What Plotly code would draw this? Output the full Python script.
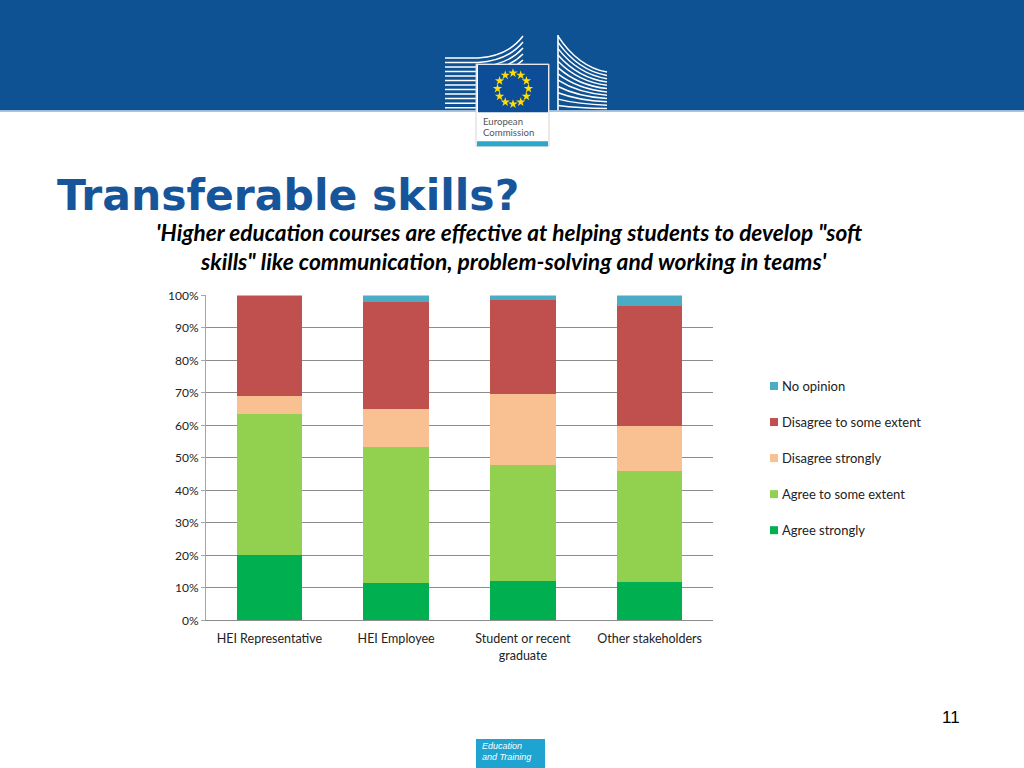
import math
import plotly.graph_objects as go

# ---------------- data ----------------
categories = ["HEI Representative", "HEI Employee", "Student or recent<br>graduate", "Other stakeholders"]
agree_strongly = [20.1, 11.5, 12.1, 11.8]
agree_some = [43.4, 41.7, 35.8, 34.3]
disagree_strongly = [5.6, 11.8, 21.9, 13.8]
disagree_some = [30.9, 33.1, 28.7, 36.8]
no_opinion = [0.0, 1.9, 1.5, 3.3]
y_ticks = [0, 10, 20, 30, 40, 50, 60, 70, 80, 90, 100]
y_tick_labels = [f"{v}%" for v in y_ticks]

series_names = ["Agree strongly", "Agree to some extent", "Disagree strongly",
                "Disagree to some extent", "No opinion"]
series_values = [agree_strongly, agree_some, disagree_strongly, disagree_some, no_opinion]
series_colors = ["#00B050", "#92D050", "#F9C191", "#C0504D", "#4BACC6"]

W, H = 1024, 768
# the paper area renders 8 px inset and 752/768 tall; compensate
V_OFF, V_SC = 8.0, 752.0 / 768.0

def px(x):
    return x / W
def py(y):
    return 1 - ((y - V_OFF) / V_SC) / H

FONT = "Lato"

fig = go.Figure()
for name, vals, col in zip(series_names, series_values, series_colors):
    fig.add_trace(go.Bar(
        x=categories, y=vals, name=name,
        marker=dict(color=col, line=dict(width=0)),
        showlegend=False, hoverinfo="skip",
    ))

shapes = []
annotations = []

def rect(x0, x1, y0, y1, color, layer="below", line=None):
    shapes.append(dict(type="rect", xref="paper", yref="paper", x0=px(x0), x1=px(x1),
                       y0=py(y1), y1=py(y0), fillcolor=color,
                       line=line or dict(width=0), layer=layer))

# header band
rect(0, W, -20, 110, "#0F5294")
rect(0, W, 110, 111.5, "#8EB0D4")

# logo building stripes (left)
for i in range(12):
    y0 = 58 + i * 4.5
    ye = 36 + i * 6.0
    path = (f"M {px(445)},{py(y0)} L {px(478)},{py(y0)} "
            f"Q {px(508)},{py(y0 - 2)} {px(523)},{py(ye)}")
    shapes.append(dict(type="path", xref="paper", yref="paper", path=path, layer="below",
                       line=dict(color="white", width=1.5)))
# right building stripes
for i in range(12):
    ys = 36 + i * 6.3
    ye = 72 + i * 3.3
    path = (f"M {px(558)},{py(ys)} Q {px(578)},{py(ys + (ye - ys) * 0.85)} {px(607)},{py(ye)}")
    shapes.append(dict(type="path", xref="paper", yref="paper", path=path, layer="below",
                       line=dict(color="white", width=1.5)))
shapes.append(dict(type="line", xref="paper", yref="paper", x0=px(558), x1=px(558), y0=py(110), y1=py(35),
                   layer="below", line=dict(color="white", width=1.6)))

# emblem box
rect(476, 549, 64, 146, "white", line=dict(color="#D5D5D5", width=1))
rect(478, 548, 65, 112, "#0D4C97")
rect(477, 548, 141, 146, "#2AA7C9")

# EU stars on a hidden helper axis placed over the emblem (pixel units)
cx, cy, r = 513, 88.5, 15.5
star_x = [cx + r * math.sin(2 * math.pi * k / 12) for k in range(12)]
star_y = [cy - r * math.cos(2 * math.pi * k / 12) for k in range(12)]
fig.add_trace(go.Scatter(x=star_x, y=star_y, mode="markers", xaxis="x2", yaxis="y2",
                         marker=dict(symbol="star", size=7, color="#FFDE00", line=dict(width=0)),
                         showlegend=False, hoverinfo="skip", cliponaxis=False))

annotations.append(dict(xref="paper", yref="paper", x=px(480.5), y=py(121), text="European",
                        showarrow=False, font=dict(size=9.6, color="#555555", family=FONT),
                        xanchor="left", yanchor="middle"))
annotations.append(dict(xref="paper", yref="paper", x=px(480.5), y=py(132.5), text="Commission",
                        showarrow=False, font=dict(size=9.6, color="#555555", family=FONT),
                        xanchor="left", yanchor="middle"))

# title
annotations.append(dict(xref="paper", yref="paper", x=px(55), y=py(195), text="<b>Transferable skills?</b>",
                        showarrow=False, font=dict(size=42.5, color="#17559A", family="DejaVu Sans"),
                        xanchor="left", yanchor="middle"))
annotations.append(dict(xref="paper", yref="paper", x=px(509), y=py(232),
                        text="<b><i>'Higher education courses are effective at helping students to develop \"soft</i></b>",
                        showarrow=False, font=dict(size=22.6, color="#000000", family=FONT),
                        xanchor="center", yanchor="middle"))
annotations.append(dict(xref="paper", yref="paper", x=px(513), y=py(261),
                        text="<b><i>skills\" like communication, problem-solving and working in teams'</i></b>",
                        showarrow=False, font=dict(size=22.8, color="#000000", family=FONT),
                        xanchor="center", yanchor="middle"))

# custom legend (top item = last series)
leg_y = [529.5, 493.5, 457.5, 421.5, 385.5]
for name, col, yy in zip(series_names, series_colors, leg_y):
    rect(770, 778, yy - 4, yy + 4, col, layer="above")
    annotations.append(dict(xref="paper", yref="paper", x=px(780), y=py(yy), text=name,
                            showarrow=False, font=dict(size=13, color="#222222", family=FONT),
                            xanchor="left", yanchor="middle"))

# page number
annotations.append(dict(xref="paper", yref="paper", x=px(951), y=py(717), text="11",
                        showarrow=False, font=dict(size=17, color="#000000", family="Liberation Sans"),
                        xanchor="center", yanchor="middle"))

# footer box
rect(476, 545, 738, 790, "#1FA3D0")
annotations.append(dict(xref="paper", yref="paper", x=px(480), y=py(745.5), text="<i>Education</i>",
                        showarrow=False, font=dict(size=9, color="white", family="Liberation Sans"),
                        xanchor="left", yanchor="middle"))
annotations.append(dict(xref="paper", yref="paper", x=px(480), y=py(756), text="<i>and Training</i>",
                        showarrow=False, font=dict(size=9, color="white", family="Liberation Sans"),
                        xanchor="left", yanchor="middle"))

fig.update_layout(
    width=W, height=H,
    margin=dict(l=0, r=0, t=0, b=0),
    paper_bgcolor="white", plot_bgcolor="rgba(0,0,0,0)",
    barmode="stack", bargap=0.483,
    showlegend=False,
    font=dict(family=FONT, size=12.5, color="#222222"),
    xaxis=dict(domain=[px(206), px(713)], showgrid=False, showline=True, linecolor="#8C8C8C",
               linewidth=1, ticks="", ticklabelstandoff=7, tickfont=dict(size=12.5, color="#222222")),
    yaxis=dict(domain=[py(619.5), py(295)], range=[0, 100], tickvals=y_ticks, ticktext=y_tick_labels,
               showgrid=True, gridcolor="#8C8C8C", gridwidth=1, showline=True, linecolor="#A6A6A6",
               linewidth=1, ticks="outside", ticklen=4, tickcolor="#A6A6A6",
               tickfont=dict(size=12, color="#222222"), zeroline=False),
    xaxis2=dict(domain=[px(478), px(548)], range=[478, 548], visible=False, anchor="y2"),
    yaxis2=dict(domain=[py(112), py(65)], range=[112, 65], visible=False, anchor="x2"),
    shapes=shapes,
    annotations=annotations,
)

fig.write_html(
    "out.html", config={"displayModeBar": False},
    post_script=(
        "document.documentElement.style.margin='0';"
        "document.documentElement.style.padding='0';"
        "document.documentElement.style.overflow='hidden';"
        "document.body.style.margin='0';document.body.style.padding='0';"
        "var gd=document.getElementsByClassName('plotly-graph-div')[0];"
        "gd.style.position='fixed';gd.style.top='0';gd.style.left='0';"
    ),
)
